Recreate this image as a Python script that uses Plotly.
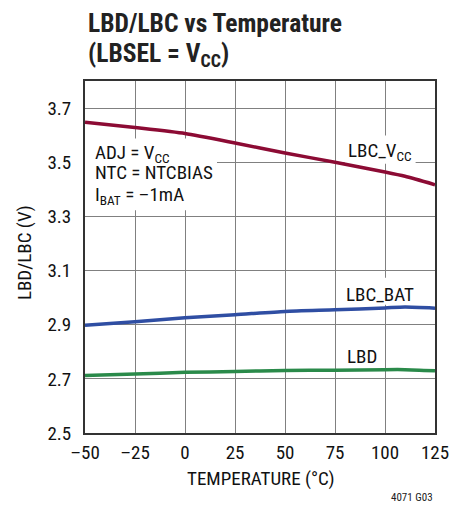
import plotly.graph_objects as go

temps = [-50, -25, 0, 25, 50, 75, 100, 110, 125]
lbc_vcc = [3.648, 3.628, 3.606, 3.571, 3.534, 3.500, 3.464, 3.448, 3.417]
lbc_bat = [2.898, 2.911, 2.926, 2.937, 2.949, 2.955, 2.962, 2.965, 2.961]
lbd = [2.712, 2.718, 2.724, 2.727, 2.731, 2.732, 2.734, 2.734, 2.730]

x_ticks = [-50, -25, 0, 25, 50, 75, 100, 125]
x_ticktext = ["–50", "–25", "0", "25", "50", "75", "100", "125"]
y_ticks = [2.5, 2.7, 2.9, 3.1, 3.3, 3.5, 3.7]

FONT = "Liberation Sans Narrow, Roboto Condensed, Arial Narrow, Liberation Sans, sans-serif"
TXT = "#111"

# figure is offset by the page's 8px body margin
W, H = 458, 498
L, R, T, B = 77, 30.5, 73, 73
PW, PH = W - L - R, H - T - B


def px(xf):
    return (xf - 8 - L) / PW


def py(yf):
    return (H - B - (yf - 8)) / PH


fig = go.Figure()
fig.add_trace(go.Scatter(x=temps, y=lbc_vcc, mode="lines",
                         line=dict(color="#8c0b34", width=3.5, shape="spline", smoothing=0.6)))
fig.add_trace(go.Scatter(x=temps, y=lbc_bat, mode="lines",
                         line=dict(color="#2f4ea3", width=3.5, shape="spline", smoothing=0.6)))
fig.add_trace(go.Scatter(x=temps, y=lbd, mode="lines",
                         line=dict(color="#2a8a4a", width=3.5, shape="spline", smoothing=0.6)))

# white patches that break the grid behind the labels
for x0, x1, y0, y1 in [(-50, 16, 3.3225, 3.588), (79.8, 115.3, 3.494, 3.599), (79.8, 115.3, 2.974, 3.073)]:
    fig.add_shape(type="rect", xref="x", yref="y", x0=x0, x1=x1, y0=y0, y1=y1,
                  fillcolor="white", line=dict(width=0), layer="between")

ann_font = dict(family=FONT, size=19, color=TXT)
labels = [
    (97.5, 3.539, "LBC_V<sub>CC</sub>", "center"),
    (97.3, 3.013, "LBC_BAT", "center"),
    (88.7, 2.783, "LBD", "center"),
    (-46, 3.532, "ADJ = V<sub>CC</sub>", "left"),
    (-46, 3.4627, "NTC = NTCBIAS", "left"),
    (-46, 3.378, "I<sub>BAT</sub> = –1mA", "left"),
]
for xv, yv, t, anc in labels:
    fig.add_annotation(x=xv, y=yv, xref="x", yref="y", text=t, showarrow=False,
                       font=ann_font, xanchor=anc, yanchor="middle")

# title lines
fig.add_annotation(x=px(86), y=py(23), xref="paper", yref="paper",
                   text="<b>LBD/LBC vs Temperature</b>", showarrow=False,
                   font=dict(family=FONT, size=25.5, color="#222"), xanchor="left", yanchor="middle")
fig.add_annotation(x=px(86), y=py(54), xref="paper", yref="paper",
                   text="<b>(LBSEL = V<sub>CC</sub>)</b>", showarrow=False,
                   font=dict(family=FONT, size=25.5, color="#222"), xanchor="left", yanchor="middle")

# axis titles
fig.add_annotation(x=px(261), y=py(478), xref="paper", yref="paper",
                   text="TEMPERATURE (°C)", showarrow=False,
                   font=dict(family=FONT, size=19, color=TXT), xanchor="center", yanchor="middle")
fig.add_annotation(x=px(24), y=py(253), xref="paper", yref="paper",
                   text="LBD/LBC (V)", showarrow=False, textangle=-90,
                   font=dict(family=FONT, size=19, color=TXT), xanchor="center", yanchor="middle")
fig.add_annotation(x=px(436), y=py(497.5), xref="paper", yref="paper", text="4071 G03", showarrow=False,
                   font=dict(family=FONT, size=11, color="#222"), xanchor="right", yanchor="middle")

fig.update_layout(
    width=W, height=H,
    margin=dict(l=L, r=R, t=T, b=B),
    paper_bgcolor="white", plot_bgcolor="white",
    showlegend=False,
    font=dict(family=FONT, color=TXT, size=19),
    xaxis=dict(range=[-50, 125], tickvals=x_ticks, ticktext=x_ticktext,
               showgrid=True, gridcolor="#808080", gridwidth=1.3,
               showline=True, linecolor="#333", linewidth=2, mirror=True,
               ticks="", zeroline=False, ticklabelstandoff=1,
               tickfont=dict(size=19, family=FONT, color=TXT)),
    yaxis=dict(range=[2.5, 3.8], tickvals=y_ticks, tickformat=".1f",
               showgrid=True, gridcolor="#808080", gridwidth=1.3,
               showline=True, linecolor="#333", linewidth=2, mirror=True,
               ticks="", zeroline=False, ticklabelstandoff=8,
               tickfont=dict(size=19, family=FONT, color=TXT)),
)

fig.write_html("out.html")
